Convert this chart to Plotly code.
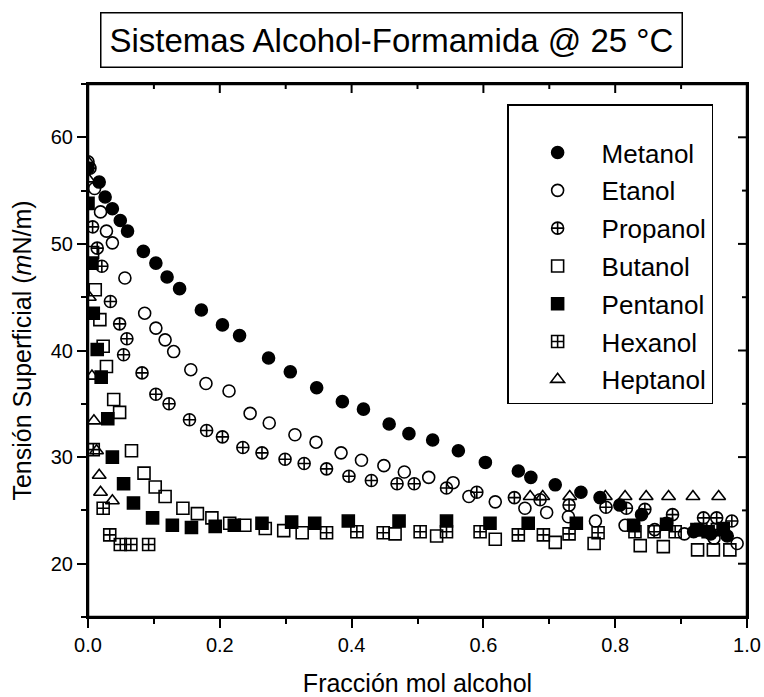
import plotly.graph_objects as go

# Surface tension of alcohol + formamide mixtures at 25 °C
metanol_x = [0.0, 0.017, 0.026, 0.037, 0.049, 0.060, 0.084, 0.103, 0.120, 0.139, 0.172, 0.204,
             0.230, 0.274, 0.307, 0.347, 0.386, 0.418, 0.457, 0.487, 0.523, 0.562, 0.603, 0.653,
             0.672, 0.709, 0.748, 0.777, 0.807, 0.840, 0.878, 0.919, 0.945, 0.970]
metanol_y = [57.1, 55.8, 54.4, 53.3, 52.2, 51.2, 49.3, 48.2, 46.9, 45.8, 43.8, 42.4,
             41.4, 39.3, 38.0, 36.5, 35.2, 34.5, 33.1, 32.2, 31.6, 30.6, 29.5, 28.7,
             28.1, 27.4, 26.7, 26.2, 25.5, 24.6, 23.8, 23.0, 22.8, 22.6]

etanol_x = [0.0, 0.010, 0.019, 0.028, 0.037, 0.056, 0.086, 0.103, 0.117, 0.130, 0.156, 0.179,
            0.214, 0.246, 0.275, 0.314, 0.346, 0.384, 0.415, 0.449, 0.480, 0.517, 0.554, 0.578,
            0.618, 0.663, 0.696, 0.729, 0.770, 0.815, 0.860, 0.905, 0.950, 0.985]
etanol_y = [57.7, 55.2, 53.0, 51.2, 50.1, 46.8, 43.5, 42.1, 41.0, 39.9, 38.2, 36.9,
            36.2, 34.1, 33.2, 32.1, 31.4, 30.4, 29.7, 29.2, 28.6, 28.1, 27.6, 26.3,
            25.8, 25.2, 24.8, 24.4, 24.0, 23.6, 23.2, 22.8, 22.4, 21.9]

propanol_x = [0.003, 0.007, 0.014, 0.021, 0.034, 0.048, 0.054, 0.059, 0.082, 0.103, 0.123, 0.154,
              0.180, 0.204, 0.235, 0.264, 0.299, 0.328, 0.362, 0.396, 0.430, 0.469, 0.495, 0.544,
              0.590, 0.647, 0.686, 0.730, 0.786, 0.817, 0.845, 0.887, 0.934, 0.954, 0.977]
propanol_y = [57.1, 51.6, 49.6, 47.9, 44.6, 42.5, 39.6, 41.1, 37.9, 35.9, 35.0, 33.5,
              32.5, 31.9, 30.9, 30.4, 29.8, 29.4, 28.9, 28.2, 27.8, 27.5, 27.5, 27.1,
              26.7, 26.2, 26.0, 25.5, 25.3, 25.2, 25.1, 24.6, 24.3, 24.3, 24.0]

butanol_x = [0.007, 0.011, 0.018, 0.023, 0.028, 0.039, 0.048, 0.066, 0.085, 0.102, 0.117, 0.144,
             0.166, 0.188, 0.215, 0.238, 0.269, 0.297, 0.325, 0.466, 0.529, 0.618, 0.709, 0.768,
             0.838, 0.873, 0.925, 0.949, 0.974]
butanol_y = [49.2, 45.7, 42.9, 40.4, 38.5, 35.4, 34.2, 30.6, 28.5, 27.2, 26.3, 25.2,
             24.7, 24.3, 23.8, 23.6, 23.3, 23.1, 22.9, 22.8, 22.6, 22.3, 22.0, 21.9,
             21.7, 21.6, 21.3, 21.3, 21.3]

pentanol_x = [0.0, 0.006, 0.008, 0.014, 0.020, 0.030, 0.037, 0.054, 0.069, 0.098, 0.128, 0.157,
              0.193, 0.222, 0.264, 0.309, 0.344, 0.395, 0.472, 0.544, 0.610, 0.668, 0.741, 0.828,
              0.878, 0.924, 0.941, 0.964]
pentanol_y = [53.8, 48.2, 43.5, 40.1, 37.5, 33.6, 30.0, 27.5, 25.7, 24.3, 23.6, 23.4,
              23.5, 23.6, 23.8, 23.9, 23.8, 24.0, 24.0, 24.0, 23.8, 23.8, 23.8, 23.6,
              23.7, 23.2, 23.0, 23.3]

hexanol_x = [0.008, 0.023, 0.033, 0.049, 0.065, 0.092, 0.362, 0.408, 0.448, 0.504, 0.544, 0.595,
             0.653, 0.691, 0.730, 0.774, 0.830, 0.859, 0.891, 0.930, 0.955]
hexanol_y = [30.7, 25.2, 22.7, 21.8, 21.8, 21.8, 22.9, 23.0, 22.9, 23.0, 23.0, 23.0,
             22.7, 22.7, 22.8, 22.9, 23.0, 23.0, 23.0, 23.2, 23.2]

heptanol_x = [0.0, 0.0, 0.002, 0.006, 0.009, 0.013, 0.017, 0.019, 0.037, 0.671, 0.690, 0.731,
              0.785, 0.815, 0.847, 0.881, 0.918, 0.957]
heptanol_y = [57.7, 56.1, 45.0, 37.6, 33.4, 30.6, 28.3, 26.7, 25.9, 26.3, 26.3, 26.3,
              26.3, 26.3, 26.3, 26.3, 26.3, 26.3]

x_ticks = [0.0, 0.2, 0.4, 0.6, 0.8, 1.0]
x_tick_labels = ["0.0", "0.2", "0.4", "0.6", "0.8", "1.0"]
x_minor_ticks = [0.1, 0.3, 0.5, 0.7, 0.9]
y_ticks = [20, 30, 40, 50, 60]
y_minor_ticks = [15, 25, 35, 45, 55, 65]
x_range = [0, 1]
y_range = [15, 65]

series = [
    ("Metanol", metanol_x, metanol_y, "circle"),
    ("Etanol", etanol_x, etanol_y, "circle-open"),
    ("Propanol", propanol_x, propanol_y, "circle-cross-open"),
    ("Butanol", butanol_x, butanol_y, "square-open"),
    ("Pentanol", pentanol_x, pentanol_y, "square"),
    ("Hexanol", hexanol_x, hexanol_y, "square-cross-open"),
    ("Heptanol", heptanol_x, heptanol_y, "triangle-up-open"),
]

FONT = "Liberation Sans, Arial, sans-serif"
WIDTH, HEIGHT = 764, 697
MARGIN = dict(l=88, r=17, t=84, b=80)
PLOT_W = WIDTH - MARGIN["l"] - MARGIN["r"]
PLOT_H = HEIGHT - MARGIN["t"] - MARGIN["b"]
MAJOR_LEN, MINOR_LEN = 9, 5

fig = go.Figure()
for i, (name, xs, ys, sym) in enumerate(series):
    fig.add_trace(go.Scatter(
        x=xs, y=ys, mode="markers", name=name, legendgroup=f"g{i}",
        marker=dict(symbol=sym, size=12, color="black",
                    line=dict(color="black", width=1.6)),
    ))

# closed frame around the plotting area
shapes = [dict(type="rect", xref="paper", yref="paper", x0=0, x1=1, y0=0, y1=1,
               line=dict(color="black", width=2.5), layer="above")]
# inward ticks on the top and right edges, placed at the axis tick values
tick_line = dict(color="black", width=2)
for v, ln in [(v, MAJOR_LEN) for v in x_ticks] + [(v, MINOR_LEN) for v in x_minor_ticks]:
    shapes.append(dict(type="line", xref="x", yref="paper", x0=v, x1=v,
                       y0=1, y1=1 - ln / PLOT_H, line=tick_line, layer="above"))
for v, ln in [(v, MAJOR_LEN) for v in y_ticks] + [(v, MINOR_LEN) for v in y_minor_ticks]:
    shapes.append(dict(type="line", xref="paper", yref="y", x0=1, x1=1 - ln / PLOT_W,
                       y0=v, y1=v, line=tick_line, layer="above"))

axis_common = dict(
    showgrid=False, zeroline=False, showline=True, mirror=True,
    linecolor="black", linewidth=2,
    tickcolor="black", tickwidth=2, ticklen=MAJOR_LEN, automargin=False,
    tickfont=dict(family=FONT, size=20, color="black"),
)

fig.update_layout(
    width=WIDTH, height=HEIGHT,
    margin=MARGIN,
    paper_bgcolor="white", plot_bgcolor="white",
    font=dict(family=FONT, color="black"),
    showlegend=True,
    shapes=shapes,
    xaxis=dict(
        range=x_range, tickvals=x_ticks, ticktext=x_tick_labels, ticks="outside",
        minor=dict(tickvals=x_minor_ticks, ticks="outside", ticklen=MINOR_LEN, tickwidth=2,
                   tickcolor="black"),
        title=dict(text="Fracción mol alcohol", font=dict(family=FONT, size=25), standoff=21),
        **axis_common,
    ),
    yaxis=dict(
        range=y_range, tickvals=y_ticks, ticks="outside",
        minor=dict(tickvals=y_minor_ticks, ticks="outside", ticklen=MINOR_LEN, tickwidth=2,
                   tickcolor="black"),
        title=dict(text="Tensión Superficial (<i>m</i>N/m)", font=dict(family=FONT, size=25), standoff=12),
        **axis_common,
    ),
    legend=dict(
        x=0.636, y=0.962, xanchor="left", yanchor="top",
        bgcolor="white", bordercolor="black", borderwidth=1.5,
        font=dict(family=FONT, size=26, color="black"),
        title=dict(text=" ", font=dict(size=18)),
        traceorder="grouped", tracegroupgap=1, itemwidth=78, indentation=5,
    ),
    annotations=[dict(
        text="Sistemas Alcohol-Formamida @ 25 °C",
        xref="paper", yref="paper", x=0.461, y=1.083, xanchor="center", yanchor="middle",
        showarrow=False, font=dict(family=FONT, size=33, color="black"),
        bordercolor="black", borderwidth=1.5, borderpad=8, bgcolor="white",
    )],
)

fig.write_html("out.html")
